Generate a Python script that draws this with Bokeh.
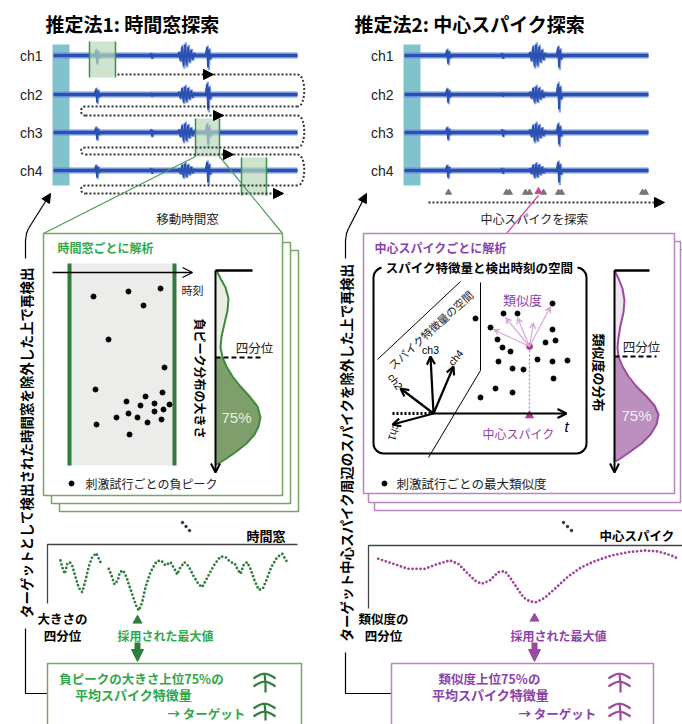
import numpy as np
from bokeh.plotting import figure
from bokeh.models import ColumnDataSource, Arrow, NormalHead, OpenHead, VeeHead
from bokeh.core.properties import value
from bokeh.embed import file_html
from bokeh.resources import INLINE

JP = "Noto Sans CJK JP"
LAT = "Liberation Sans"

# ---------------- data ----------------
titles = ["推定法1: 時間窓探索", "推定法2: 中心スパイク探索"]
channels = ["ch1", "ch2", "ch3", "ch4"]
channel_y = [55, 94, 132, 170]
wave_start = [53, 404]
wave_length = 244
spike_offsets = [44, 99, 133, 155]
spike_kinds = ["spike", "bump", "burst", "spike"]
spike_amps = [[8, 3, 11, 12], [8, 2, 8, 15], [7, 4, 9, 12], [7, 3, 7, 12]]
spike_dx = [-3, -1.5, -0.5, 0.5, 1.5, 3]
spike_dy = [0, -0.7, 1.0, -0.5, 0.3, 0]
burst_dx = [-9, -7.5, -6, -4.5, -3, -1.5, 0, 1.5, 3, 4.5, 6, 7.5, 9]
burst_dy = [0, -0.3, 0.5, -0.8, 1.0, -1.0, 0.9, -0.8, 0.6, -0.5, 0.4, -0.2, 0]

# method 1 moving windows
win_left = [89, 195, 241]
win_right = [115, 219, 266]
win_top = [41, 118, 157]
win_bottom = [77, 156, 195]

# serpentine scan path
path_x0 = [117, 297, 85, 297, 85, 297, 85]
path_x1 = [297, 85, 297, 85, 297, 85, 282]
path_y = [74, 106, 115, 147, 154, 185, 193]
head_x = [213, 223, 233, 283]
head_y = [74, 115, 154, 193]

# method 2 detected spike markers
center_marks_x = [448, 506, 509, 525, 529, 543, 558, 561, 642, 645]
center_sel_x = 538

# method 1 box: negative peaks per trial
peaks_x = [93, 128, 160, 143, 108, 164, 95, 162, 145, 126, 140, 154, 169, 163, 154, 128, 116, 137, 161, 147, 96, 129]
peaks_y = [296, 291, 288, 305, 339, 367, 389, 392, 396, 401, 405, 403, 404, 409, 411, 413, 417, 417, 419, 422, 424, 434]

# method 2 box: max similarity per trial
sim_x = [475, 503, 517, 552, 490, 552, 497, 545, 555, 502, 510, 498, 537, 552, 567, 512, 523, 553, 495, 512, 480]
sim_y = [318, 313, 313, 303, 327, 329, 339, 342, 340, 347, 351, 361, 359, 361, 360, 368, 369, 378, 388, 392, 397]
sim_center = (529, 346)
sim_arrow_x = [493, 505, 517, 533, 550]
sim_arrow_y = [329, 317, 317, 322, 306]

# distributions (upper part above quartile, lower 75% part)
distL_up_x = [216, 220, 225, 228, 227, 224, 221, 220, 222]
distL_up_y = [270, 278, 287, 298, 310, 323, 336, 347, 357]
distL_lo_x = [222, 226, 232, 240, 250, 257, 260, 258, 254, 246, 236, 226, 218, 215]
distL_lo_y = [357, 366, 376, 386, 397, 406, 417, 426, 434, 443, 451, 458, 463, 464]
distR_up_x = [614, 618, 622, 624, 623, 620, 618, 617, 618]
distR_up_y = [270, 278, 288, 300, 312, 325, 337, 347, 356]
distR_lo_x = [618, 622, 628, 636, 646, 654, 658, 656, 650, 641, 630, 620, 615]
distR_lo_y = [356, 366, 376, 386, 396, 405, 414, 424, 434, 443, 451, 458, 461]

# score curves over windows / center spikes
scoreL_x = [60.0, 61.7, 64.3, 66.7, 69.3, 71.7, 75, 78.3, 81.7, 85, 88.3, 91.7, 95.7, 100, np.nan,
            108.3, 111, 114, 117.3, 119.3, 122.7, 126, 129.3, 132.7, 136, 138.3, 141.7, 145, 150, 156, 160.7, 165,
            170, 174, 176.7, 180, 184, 188.3, 193.3, 198.3, 201.7, 206.7, 213.3, 220, 225, 230,
            234, 237.3, 240, 243.3, 246.7, 250, 254, 258.3, 262.3, 266, 270.7, 276.7, 281.7, 286.7]
scoreL_y = [560, 566.7, 573.3, 563.3, 561.7, 565, 576.7, 587.3, 591.7, 580, 566, 556.7, 552.7, 561.7, np.nan,
            568.3, 575, 584, 580, 571.7, 570, 576.7, 586.7, 596.7, 606, 610, 601.7, 586.7, 571.7, 561, 560, 565,
            561.7, 568.3, 574, 566.7, 561.7, 566, 576, 584, 586.7, 577.3, 565, 556, 556.7, 561.7,
            562.7, 569.3, 573.3, 564, 561.7, 568.3, 580, 589.3, 588.3, 579.3, 566.7, 556.7, 553.3, 561.7]
scoreR_x = [377.7, 391, 407.7, 424.3, 437.7, 449.3, 457.7, 466, 474.3, 481, 489.3, 497.7, 504.3, 509.3, 516,
            522.7, 529.3, 536, 544.3, 554.3, 567.7, 581, 594.3, 611, 627.7, 644.3, 657.7, 671, 677.7]
scoreR_y = [558.3, 562.7, 568.3, 568.3, 563.3, 560, 563.3, 571.7, 580, 583.3, 580, 571.7, 570.7, 576.7, 586.7,
            596.7, 601, 601.7, 597.3, 588.3, 576, 566.7, 560.7, 555, 551.7, 550, 551, 555, 558.3]

# mean spike feature icons
icon_arm_dx = [0, -4, -8, -11]
icon_arm_dy = [0, 1, 3, 5]

# ---------------- colours ----------------
TEAL = "#80c3cd"
WAVE_D = "#2a50b0"
WAVE_L = "#6688d8"
G_TXT = "#2fa84a"
G_DARK = "#2e7d3a"
G_BOX = "#76a566"
G_WIN = "#b9d8b9"
G_FILL_UP = "#e8eee4"
G_FILL_LO = "#7e9f6c"
G_LINE = "#3d8a3d"
P_TXT = "#8c3fab"
P_BOX = "#b689be"
P_FILL_UP = "#efe5f0"
P_FILL_LO = "#bb8fbe"
P_LINE = "#9c4aa0"
P_DOT = "#a3409c"
PINK = "#d9a9d9"

p = figure(width=682, height=724, x_range=(0, 682), y_range=(724, 0),
           output_backend="svg", toolbar_location=None, min_border=0,
           x_axis_type=None, y_axis_type=None)
p.grid.visible = False
p.outline_line_color = None


def txt(x, y, s, size=12, color="black", bold=False, align="center", baseline="middle",
        angle=0.0, font=JP, italic=False):
    style = "bold" if bold else ("italic" if italic else "normal")
    p.text(x=[x], y=[y], text=[s], text_font=value(font), text_font_size=f"{size}px",
           text_color=color, text_font_style=style, text_align=align,
           text_baseline=baseline, angle=angle)


def arrow(x0, y0, x1, y1, color="black", width=1.5, head="normal", size=9):
    if head == "normal":
        h = NormalHead(size=size, fill_color=color, line_color=color, line_width=1)
    elif head == "open":
        h = OpenHead(size=size, line_color=color, line_width=width)
    else:
        h = VeeHead(size=size, fill_color=color, line_color=color, line_width=1)
    p.add_layout(Arrow(x_start=x0, y_start=y0, x_end=x1, y_end=y1, line_color=color,
                       line_width=width, end=h))


# ---------------- titles ----------------
txt(45, 23, titles[0], size=19, bold=True, align="left")
txt(354, 23, titles[1], size=19, bold=True, align="left")

# ---------------- waveforms ----------------
for panel, x0 in enumerate(wave_start):
    p.quad(left=x0 - 1, right=x0 + 16, top=44, bottom=185, fill_color=TEAL, line_color=None)
    for ci, cy in enumerate(channel_y):
        txt(x0 - 11, cy, channels[ci], size=14, font=LAT, align="right", color="#222222")
        xs_l, ys_l = [], []
        for k, off in enumerate(spike_offsets):
            dx, dy = (burst_dx, burst_dy) if spike_kinds[k] == "burst" else (spike_dx, spike_dy)
            a = spike_amps[ci][k]
            xs_l.append([x0 + off + d for d in dx])
            ys_l.append([cy + v * a for v in dy])
        p.multi_line([[x + 0.8 for x in xs] for xs in xs_l],
                     [[cy + (y - cy) * 1.2 for y in ys] for ys in ys_l],
                     line_color=WAVE_L, line_width=2.2, line_alpha=0.8)
        p.line([x0, x0 + wave_length], [cy, cy], line_color=WAVE_L, line_width=6, line_alpha=0.9)
        p.line([x0, x0 + wave_length], [cy, cy], line_color=WAVE_D, line_width=3)
        p.multi_line(xs_l, ys_l, line_color=WAVE_D, line_width=1.8)

# moving windows
p.quad(left=win_left, right=win_right, top=win_top, bottom=win_bottom,
       fill_color=G_WIN, fill_alpha=0.7, line_color=None)
p.segment(x0=win_left + win_right, y0=win_top + win_top, x1=win_left + win_right,
          y1=win_bottom + win_bottom, line_color="#3a9050", line_width=1.5)

# serpentine scan path
p.segment(x0=path_x0, y0=path_y, x1=path_x1, y1=path_y, line_color="#333333",
          line_width=2, line_dash="2 2")
for i in range(len(path_y) - 1):
    xe = path_x1[i]
    bulge = 9 if xe > 200 else -6
    p.bezier(x0=[xe], y0=[path_y[i]], x1=[xe], y1=[path_y[i + 1]],
             cx0=[xe + bulge], cy0=[path_y[i]], cx1=[xe + bulge], cy1=[path_y[i + 1]],
             line_color="#333333", line_width=2, line_dash="2 2")
for hx, hy in zip(head_x, head_y):
    arrow(hx - 2, hy, hx, hy, color="black", width=0.1, head="normal", size=10)
txt(187, 218, "移動時間窓", size=12.5, color="#222222")

# method 2 markers and scan arrow
p.scatter(center_marks_x, [192] * len(center_marks_x), marker="triangle", size=6,
          fill_color="#777777", line_color="#777777")
p.scatter([center_sel_x], [191], marker="triangle", size=7, fill_color="#d0469e", line_color="#d0469e")
p.line([428, 655], [202, 202], line_color="#333333", line_width=2, line_dash="2 2")
arrow(652, 202, 664, 202, color="black", width=0.1, head="normal", size=10)
txt(534, 218, "中心スパイクを探索", size=12, color="#222222")

# call-out lines
p.segment(x0=[195, 219], y0=[156, 156], x1=[43, 282], y1=[233, 233], line_color="#4a9a5a", line_width=1.2)
p.segment(x0=[center_sel_x], y0=[195], x1=[506], y1=[233], line_color="#d0469e", line_width=1.2)

# ---------------- left brackets ----------------
for bx, by_top, tip, by_bot, xb, label, ymid in [
        (25, 258, (50, 193), 628, 47, "ターゲットとして検出された時間窓を除外した上で再検出", 442),
        (345, 258, (366, 193), 652, 391, "ターゲット中心スパイク周辺のスパイクを除外した上で再検出", 452)]:
    p.line([bx, bx, bx + 1, bx + 3], [by_top, 240, 233, 228], line_color="black", line_width=1.2)
    arrow(bx + 3, 228, tip[0], tip[1], color="black", width=1.2, head="normal", size=9)
    p.line([bx, bx, xb], [by_bot, 693, 693], line_color="black", line_width=1.2)
    txt(bx, ymid, label, size=13.5, bold=True, angle=np.pi / 2)

# ---------------- analysis boxes ----------------
for (l, t, r, b) in [(59, 250, 298, 511), (51, 242, 290, 503), (43, 233, 282, 495)]:
    p.quad(left=l, right=r, top=t, bottom=b, fill_color="white", line_color=G_BOX, line_width=1.5)
for (l, t, r, b) in [(374, 249, 686, 510), (368, 241, 680, 502), (363, 233, 674, 493)]:
    p.quad(left=l, right=r, top=t, bottom=b, fill_color="white", line_color=P_BOX, line_width=1.5)

txt(57, 247, "時間窓ごとに解析", size=12, bold=True, color=G_TXT, align="left")
txt(374, 247, "中心スパイクごとに解析", size=12, bold=True, color=P_TXT, align="left")

# left box content
p.quad(left=69, right=174, top=263, bottom=465, fill_color="#ececea", line_color=None)
p.segment(x0=[69, 174], y0=[263, 263], x1=[69, 174], y1=[465, 465], line_color=G_DARK, line_width=4)
arrow(52, 272, 192, 272, color="black", width=1.3, head="open", size=10)
txt(192, 289, "時刻", size=11, color="#222222")
p.scatter(peaks_x, peaks_y, size=5, color="black")

# distributions
for (ax, up_x, up_y, lo_x, lo_y, q_y, q_end, top_end, fu, fl, lc, lab_x, pct_xy, pct_c) in [
        (215, distL_up_x, distL_up_y, distL_lo_x, distL_lo_y, 357, 260, 252, G_FILL_UP, G_FILL_LO, G_LINE, 254, (236, 417), "#e6eede"),
        (614, distR_up_x, distR_up_y, distR_lo_x, distR_lo_y, 356, 656, 649, P_FILL_UP, P_FILL_LO, P_LINE, 641, (636, 415), "#f6eef6")]:
    p.patch([ax] + up_x + [ax], [up_y[0]] + up_y + [up_y[-1]], fill_color=fu, line_color=None)
    p.patch([ax] + lo_x + [ax], [lo_y[0]] + lo_y + [lo_y[-1]], fill_color=fl, line_color=None)
    p.line(up_x + lo_x, up_y + lo_y, line_color=lc, line_width=2)
    arrow(ax, 270, ax, 472, color="black", width=2, head="open", size=9)
    p.line([ax, top_end], [270, 270], line_color="black", line_width=2.5)
    p.line([ax, q_end], [q_y, q_y], line_color="black", line_width=1.8, line_dash="5 3")
    txt(lab_x, q_y - 10, "四分位", size=12.5, color="#222222")
    txt(pct_xy[0], pct_xy[1], "75%", size=15, font=LAT, color=pct_c)

txt(200, 378, "負ピーク分布の大きさ", size=12, bold=True, angle=-np.pi / 2)
txt(599, 372, "類似度の分布", size=13, bold=True, angle=-np.pi / 2)

p.scatter([71], [483], size=5, color="black")
txt(85, 483, "刺激試行ごとの負ピーク", size=12, align="left", color="#222222")
p.scatter([384], [483], size=5, color="black")
txt(396, 483, "刺激試行ごとの最大類似度", size=12.5, align="left", color="#222222")

# right box: feature / time space
p.quad(left=373, right=586, top=267, bottom=453, fill_color=None, line_color="black",
       line_width=2, border_radius=10)
p.quad(left=381, right=577, top=259, bottom=275, fill_color="white", line_color=None)
txt(479, 267, "スパイク特徴量と検出時刻の空間", size=12.5, bold=True)
p.line([377, 460], [359, 281], line_color="black", line_width=1)
p.line([480, 480, 428], [282, 370, 457], line_color="black", line_width=1)
txt(430, 329, "スパイク特徴量の空間", size=11, angle=0.74, color="#222222")

p.line([392, 433], [413, 413], line_color="black", line_width=3, line_dash="2 2")
arrow(433, 413, 566, 413, color="black", width=2.2, head="open", size=9)
for (ex, ey) in [(392, 424), (400, 388), (430, 356), (453, 366)]:
    arrow(433, 413, ex, ey, color="black", width=2.2, head="open", size=8)
txt(394, 432, "ch1", size=10.5, font=LAT, angle=-1.9)
txt(395, 381, "ch2", size=10.5, font=LAT, angle=-0.95)
txt(430, 349, "ch3", size=10.5, font=LAT)
txt(455, 357, "ch4", size=10.5, font=LAT, angle=0.9)
txt(566, 426, "t", size=15, font=LAT, italic=True)

p.scatter(sim_x, sim_y, size=5, color="black")
p.line([sim_center[0], sim_center[0]], [sim_center[1], 413], line_color="#d070c0",
       line_width=1.2, line_dash="2 2")
for ex, ey in zip(sim_arrow_x, sim_arrow_y):
    arrow(sim_center[0], sim_center[1], ex, ey, color=PINK, width=1.2, head="vee", size=6)
p.scatter([sim_center[0]], [sim_center[1]], size=6, color="#b03890")
p.scatter([sim_center[0]], [415], marker="triangle", size=8, color="#b03890")
txt(522, 299, "類似度", size=13, color=P_TXT)
txt(518, 433, "中心スパイク", size=12, color=P_TXT)

# ---------------- lower part ----------------
p.scatter([182, 185.5, 189], [522, 526, 530], size=2.5, color="#333333")
p.scatter([563, 567, 571], [522, 526, 530], size=2.5, color="#333333")
txt(285, 535, "時間窓", size=13, bold=True, align="right")
txt(674, 535, "中心スパイク", size=12.5, bold=True, align="right")
p.line([47, 47, 297], [603, 544, 544], line_color="#444444", line_width=1.3)
p.line([368, 368, 682], [608, 545, 545], line_color="#444444", line_width=1.3)

p.line(scoreL_x, scoreL_y, line_color=G_DARK, line_width=2.8, line_dash="0 4", line_cap="round")
p.line(scoreR_x, scoreR_y, line_color=P_DOT, line_width=2.8, line_dash="0 4", line_cap="round")

txt(62, 618, "大きさの", size=12.5, bold=True)
txt(62, 635, "四分位", size=12.5, bold=True)
txt(383, 618, "類似度の", size=12.5, bold=True)
txt(383, 635, "四分位", size=12.5, bold=True)

p.scatter([137], [620], marker="triangle", size=9, color=G_DARK)
p.scatter([534], [618], marker="triangle", size=9, color=P_LINE)
txt(165, 635, "採用された最大値", size=12, bold=True, color=G_TXT)
txt(558, 635, "採用された最大値", size=12, bold=True, color=P_TXT)
arrow(137, 642, 137, 661, color=G_DARK, width=6, head="normal", size=12)
arrow(534, 642, 534, 661, color=P_LINE, width=6, head="normal", size=12)

p.line([47, 47, 301, 301], [730, 663, 663, 730], line_color=G_BOX, line_width=1.5)
p.line([391, 391, 653, 653], [730, 663, 663, 730], line_color=P_BOX, line_width=1.5)

txt(141, 678, "負ピークの大きさ上位75%の", size=12.5, bold=True, color=G_TXT)
txt(133, 694, "平均スパイク特徴量", size=13, bold=True, color=G_TXT)
txt(167, 713, "→ ターゲット", size=12.5, bold=True, color=G_TXT, align="left")
txt(489, 678, "類似度上位75%の", size=12.5, bold=True, color=P_TXT)
txt(490, 694, "平均スパイク特徴量", size=13, bold=True, color=P_TXT)
txt(518, 713, "→ ターゲット", size=12.5, bold=True, color=P_TXT, align="left")

# mean spike icons
for cx, col in [(264, G_DARK), (619, P_LINE)]:
    for (ty, stem_bot) in [(673, 692), (703, 720)]:
        xs, ys = [], []
        for off in [0, 8]:
            for sgn in [-1, 1]:
                xs.append([cx + sgn * d for d in icon_arm_dx])
                ys.append([ty + off + d for d in icon_arm_dy])
        xs.append([cx, cx + 1, cx + 1])
        ys.append([ty, ty + 10, stem_bot])
        p.multi_line(xs, ys, line_color=col, line_width=2.2)

open("out.html", "w").write(file_html(p, INLINE))
